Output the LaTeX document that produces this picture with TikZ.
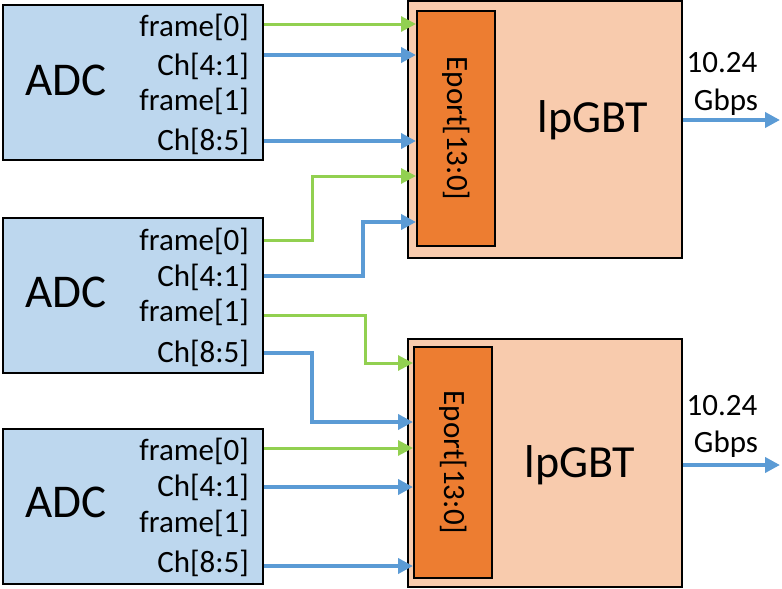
\documentclass[tikz,border=0pt]{standalone}
\usepackage{fontspec}
\setmainfont{Carlito}
\usetikzlibrary{arrows.meta}
\definecolor{adcfill}{HTML}{BDD7EE}
\definecolor{lpfill}{HTML}{F8CBAD}
\definecolor{epfill}{HTML}{ED7D31}
\definecolor{sigblue}{HTML}{5B9BD5}
\definecolor{siggreen}{HTML}{92D050}
\begin{document}
\begin{tikzpicture}[x=1pt,y=-1pt,
  block/.style={draw=black,line width=2pt,inner sep=0pt},
  adcbox/.style={block,fill=adcfill,minimum width=260pt,minimum height=155pt},
  lpbox/.style={block,fill=lpfill,minimum width=274pt},
  epbox/.style={block,fill=epfill,minimum width=78pt},
  pin/.style={anchor=base east,inner sep=0pt,font=\fontsize{31}{31}\selectfont},
  small/.style={anchor=base,inner sep=0pt,font=\fontsize{31}{31}\selectfont},
  big/.style={anchor=base,inner sep=0pt,font=\fontsize{47}{47}\selectfont},
  frm/.style={draw=siggreen,line width=3pt,-{Triangle[length=15pt,width=15pt]}},
  chn/.style={draw=sigblue,line width=4.5pt,-{Triangle[length=15pt,width=15pt]}},
]
\useasboundingbox (0,0) rectangle (782,589);

% ---- ADC blocks ----
\node[adcbox] (adc1) at (133,82.5) {};
\node[adcbox] (adc2) at (133,295) {};
\node[adcbox] (adc3) at (133,506.5) {};
\node[big] (adc1t) at (66,95) {ADC};
\node[big] (adc2t) at (66,307) {ADC};
\node[big] (adc3t) at (66,517) {ADC};

% ---- ADC output pins ----
\node[pin] (a1f0) at (249,36) {frame[0]};
\node[pin] (a1c4) at (249,75) {Ch[4:1]};
\node[pin] (a1f1) at (249,110) {frame[1]};
\node[pin] (a1c8) at (249,150) {Ch[8:5]};

\node[pin] (a2f0) at (249,250) {frame[0]};
\node[pin] (a2c4) at (249,286) {Ch[4:1]};
\node[pin] (a2f1) at (249,321) {frame[1]};
\node[pin] (a2c8) at (249,362) {Ch[8:5]};

\node[pin] (a3f0) at (249,460) {frame[0]};
\node[pin] (a3c4) at (249,496) {Ch[4:1]};
\node[pin] (a3f1) at (249,532) {frame[1]};
\node[pin] (a3c8) at (249,572) {Ch[8:5]};

% ---- lpGBT blocks with their E-port banks ----
\node[lpbox,minimum height=257pt] (lp1) at (545,129.5) {};
\node[lpbox,minimum height=248pt] (lp2) at (544.5,463) {};
\node[epbox,minimum height=235pt] (ep1) at (456,128.5) {};
\node[epbox,minimum height=231pt] (ep2) at (453,462.5) {};
\node[inner sep=0pt,font=\fontsize{31}{31}\selectfont,rotate=-90] (ep1t) at (ep1) {Eport[13:0]};
\node[inner sep=0pt,font=\fontsize{31}{31}\selectfont,rotate=-90] (ep2t) at (ep2) {Eport[13:0]};
\node[big,font=\fontsize{46}{46}\selectfont] (lp1t) at (593,132) {lpGBT};
\node[big,font=\fontsize{46}{46}\selectfont] (lp2t) at (580,477) {lpGBT};

% ---- ADC 1 -> lpGBT 1 ----
\draw[frm] (adc1.east |- 0,24) -- (ep1.west |- 0,24);
\draw[chn] (adc1.east |- 0,55) -- (ep1.west |- 0,55);
\draw[chn] (adc1.east |- 0,141) -- (ep1.west |- 0,141);

% ---- ADC 2 -> both lpGBTs ----
\draw[frm] (adc2.east |- 0,240) -| (312,176) -- (ep1.west |- 0,176);
\draw[chn] (adc2.east |- 0,276) -| (363,222) -- (ep1.west |- 0,222);
\draw[frm] (adc2.east |- 0,315) -| (365,363) -- (ep2.west |- 0,363);
\draw[chn] (adc2.east |- 0,353) -| (312,422) -- (ep2.west |- 0,422);

% ---- ADC 3 -> lpGBT 2 ----
\draw[frm] (adc3.east |- 0,448) -- (ep2.west |- 0,448);
\draw[chn] (adc3.east |- 0,487) -- (ep2.west |- 0,487);
\draw[chn] (adc3.east |- 0,566) -- (ep2.west |- 0,566);

% ---- optical uplinks ----
\coordinate (up1) at (780,120);
\coordinate (up2) at (780,465);
\draw[chn] (lp1.east |- up1) -- (up1);
\draw[chn] (lp2.east |- up2) -- (up2);
\node[small] (r1a) at (722,72) {10.24};
\node[small] (r1b) at (726,110) {Gbps};
\node[small] (r2a) at (722,415) {10.24};
\node[small] (r2b) at (726,452) {Gbps};
\end{tikzpicture}
\end{document}
